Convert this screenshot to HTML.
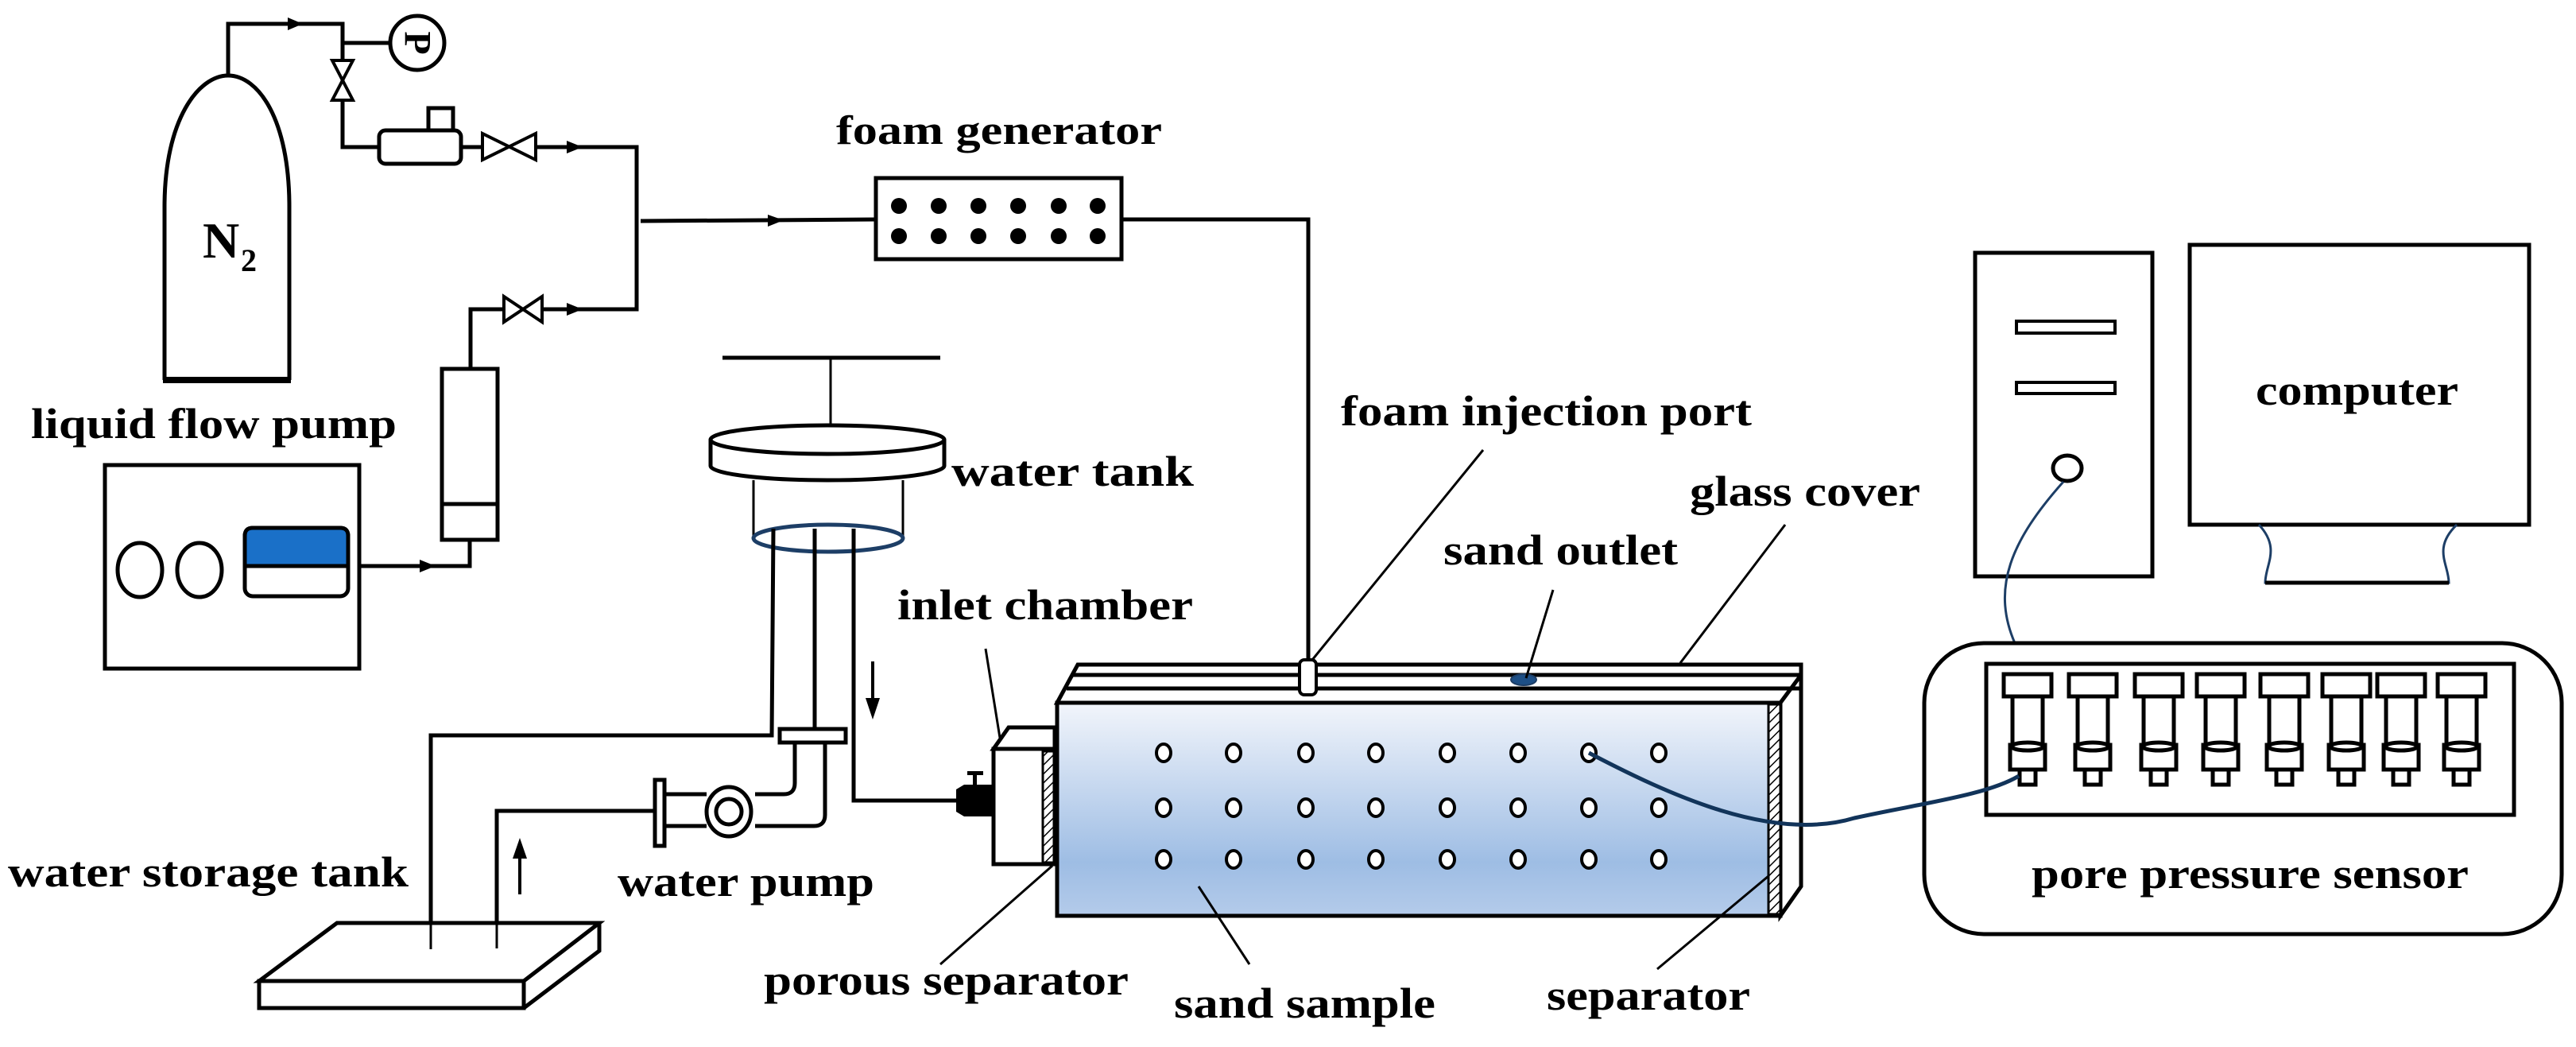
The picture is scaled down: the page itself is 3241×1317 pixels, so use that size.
<!DOCTYPE html>
<html><head><meta charset="utf-8"><style>html,body{margin:0;padding:0;background:#fff}svg{display:block}text{font-family:"Liberation Serif",serif;font-weight:bold;fill:#000}</style></head><body>
<svg width="3241" height="1317" viewBox="0 0 3241 1317" xmlns="http://www.w3.org/2000/svg">
<defs>
<linearGradient id="sand" x1="0" y1="0" x2="0" y2="1">
<stop offset="0" stop-color="#f2f5fb"/><stop offset="0.75" stop-color="#9ebde4"/><stop offset="1" stop-color="#b4cbea"/></linearGradient>
<pattern id="hatch" width="8" height="8" patternUnits="userSpaceOnUse" patternTransform="rotate(45)"><rect width="8" height="8" fill="#fff"/><line x1="0" y1="0" x2="0" y2="8" stroke="#000" stroke-width="3"/></pattern>
<g id="s"><rect x="-30" y="848" width="60" height="28"/><rect x="-19" y="876" width="38" height="61"/><rect x="-22" y="937" width="44" height="31"/><ellipse cx="0" cy="939" rx="20" ry="5"/><rect x="-10" y="968" width="20" height="19"/></g>
</defs>
<g fill="none" stroke="#000" stroke-width="5">
<path d="M207,478 L207,260 C207,150 250,95 287,95 C325,95 364,150 364,260 L364,478"/>
<line x1="205" y1="478" x2="366" y2="478" stroke-width="8"/>
<polyline points="287,95 287,30 431,30 431,185 477,185"/>
<line x1="431" y1="54" x2="490" y2="54"/>
<circle cx="525" cy="54" r="34" fill="#fff"/>
<polygon points="418,76 444,76 418,126 444,126" fill="#fff" stroke-width="4"/>
<rect x="477" y="164" width="103" height="42" rx="8" fill="#fff"/>
<rect x="539" y="136" width="31" height="28" fill="#fff"/>
<line x1="580" y1="185" x2="607" y2="185"/>
<polygon points="607,168 607,201 674,168 674,201" fill="#fff" stroke-width="4"/>
<polyline points="674,185 801,185 801,389 682,389"/>
<polygon points="634,373 634,405 682,373 682,405" fill="#fff" stroke-width="4"/>
<polyline points="634,389 592,389 592,464"/>
<line x1="806" y1="278" x2="1102" y2="276"/>
<rect x="1102" y="224" width="309" height="102"/>
<polyline points="1411,276 1646,276 1646,832"/>
<rect x="132" y="585" width="320" height="256"/>
<ellipse cx="176" cy="717" rx="28" ry="34"/>
<ellipse cx="251" cy="717" rx="28" ry="34"/>
<rect x="308" y="664" width="130" height="86" rx="10" fill="#fff"/>
<path d="M308,712 L308,674 Q308,664 318,664 L428,664 Q438,664 438,674 L438,712 Z" fill="#1a70c8"/>
<polyline points="452,712 591,712 591,681"/>
<rect x="556" y="464" width="70" height="215" fill="#fff"/>
<line x1="556" y1="634" x2="626" y2="634"/>
<line x1="909" y1="450" x2="1183" y2="450"/>
<line x1="1045" y1="450" x2="1045" y2="549" stroke-width="3"/>
<path d="M894,553 L894,586 A147,18 0 0 0 1188,586 L1188,553" fill="#fff"/>
<ellipse cx="1041" cy="553" rx="147" ry="18" fill="#fff"/>
<line x1="948" y1="604" x2="948" y2="677" stroke-width="3"/>
<line x1="1136" y1="604" x2="1136" y2="677" stroke-width="3"/>
<ellipse cx="1042" cy="677" rx="94" ry="17" stroke="#1d3e66"/>
<polyline points="973,665 971,925 542,925 542,1194"/>
<line x1="1025" y1="665" x2="1025" y2="917"/>
<polyline points="1074,665 1074,1007 1203,1007"/>
<rect x="981" y="917" width="83" height="17" fill="#fff"/>
<path d="M1000,934 L1000,985 Q1000,999 986,999 L950,999 M1038,934 L1038,1025 Q1038,1039 1024,1039 L950,1039"/>
<ellipse cx="917" cy="1021" rx="28" ry="31" fill="#fff"/>
<circle cx="917" cy="1021" r="16"/>
<line x1="837" y1="999" x2="889" y2="999"/><line x1="837" y1="1039" x2="889" y2="1039"/>
<rect x="824" y="981" width="12" height="83" fill="#fff"/>
<polyline points="824,1020 625,1020 625,1193"/>
<line x1="654" y1="1125" x2="654" y2="1075" stroke-width="4"/>
<line x1="1098" y1="832" x2="1098" y2="885" stroke-width="4"/>
<polygon points="424,1161 754,1161 659,1234 326,1234" fill="#fff"/>
<polygon points="326,1234 659,1234 659,1268 326,1268" fill="#fff"/>
<polyline points="754,1161 754,1196 659,1268"/>
<line x1="542" y1="1150" x2="542" y2="1194" stroke-width="3"/>
<line x1="625" y1="1150" x2="625" y2="1193" stroke-width="3"/>
<polygon points="1250,942 1269,915 1327,915 1327,942" fill="#fff"/>
<rect x="1250" y="942" width="77" height="145" fill="#fff"/>
<rect x="1312" y="945" width="14" height="140" fill="url(#hatch)" stroke-width="3"/>
<rect x="1330" y="884" width="910" height="268" fill="url(#sand)"/>
<polygon points="1330,884 1356,836 2266,836 2266,1115 2240,1152 2240,884" fill="#fff"/>
<line x1="1350" y1="849" x2="2266" y2="849"/>
<line x1="1342" y1="866" x2="2266" y2="866"/>
<line x1="2240" y1="884" x2="2266" y2="849"/>
<rect x="2225" y="886" width="15" height="264" fill="url(#hatch)" stroke-width="3"/>
<rect x="1635" y="830" width="21" height="44" rx="6" fill="#fff" stroke-width="4"/>
<ellipse cx="1917" cy="855" rx="16" ry="7" fill="#1d4f86" stroke="#1d3e66" stroke-width="2"/>
<g stroke-width="3">
<line x1="1240" y1="816" x2="1258" y2="928"/>
<line x1="1866" y1="566" x2="1651" y2="830"/>
<line x1="2246" y1="660" x2="2114" y2="834"/>
<line x1="1954" y1="742" x2="1920" y2="853"/>
<line x1="1508" y1="1115" x2="1572" y2="1213"/>
<line x1="1183" y1="1213" x2="1324" y2="1089"/>
<line x1="2085" y1="1219" x2="2225" y2="1102"/>
</g>
<rect x="2485" y="318" width="223" height="407"/>
<rect x="2537" y="404" width="124" height="15" stroke-width="4"/>
<rect x="2537" y="481" width="124" height="14" stroke-width="4"/>
<ellipse cx="2601" cy="589" rx="18" ry="16"/>
<rect x="2755" y="308" width="427" height="352"/>
<path d="M2842,660 C2870,690 2850,710 2850,733 L3081,733 C3081,710 3060,690 3091,660" stroke="#1d3e66" stroke-width="3"/>
<line x1="2850" y1="733" x2="3081" y2="733"/>
<path d="M2596,606 C2530,680 2505,740 2535,809" stroke="#1d3e66" stroke-width="3"/>
<rect x="2421" y="809" width="802" height="366" rx="75"/>
<rect x="2499" y="835" width="664" height="190"/>
</g>
<g fill="#000">
<polygon points="362,22 381,30 362,38"/>
<polygon points="713,177 733,185 713,193"/>
<polygon points="713,381 733,389 713,397"/>
<polygon points="966,270 986,277 966,285"/>
<polygon points="528,704 548,712 528,720"/>
<polygon points="645,1080 654,1054 663,1080"/>
<polygon points="1089,878 1098,905 1107,878"/>
<path d="M1203,993 L1213,987 L1248,987 L1248,1027 L1213,1027 L1203,1021 Z"/>
<rect x="1224" y="975" width="5" height="13"/><rect x="1217" y="970" width="20" height="5"/>
</g>
<g fill="#000">
<circle cx="1131" cy="259" r="10"/><circle cx="1181" cy="259" r="10"/><circle cx="1231" cy="259" r="10"/><circle cx="1281" cy="259" r="10"/><circle cx="1332" cy="259" r="10"/><circle cx="1381" cy="259" r="10"/>
<circle cx="1131" cy="297" r="10"/><circle cx="1181" cy="297" r="10"/><circle cx="1231" cy="297" r="10"/><circle cx="1281" cy="297" r="10"/><circle cx="1332" cy="297" r="10"/><circle cx="1381" cy="297" r="10"/>
</g>
<g fill="#fff" stroke="#000" stroke-width="4">
<ellipse cx="1464" cy="947" rx="9" ry="11"/><ellipse cx="1552" cy="947" rx="9" ry="11"/><ellipse cx="1643" cy="947" rx="9" ry="11"/><ellipse cx="1731" cy="947" rx="9" ry="11"/><ellipse cx="1821" cy="947" rx="9" ry="11"/><ellipse cx="1910" cy="947" rx="9" ry="11"/><ellipse cx="1999" cy="947" rx="9" ry="11"/><ellipse cx="2087" cy="947" rx="9" ry="11"/>
<ellipse cx="1464" cy="1016" rx="9" ry="11"/><ellipse cx="1552" cy="1016" rx="9" ry="11"/><ellipse cx="1643" cy="1016" rx="9" ry="11"/><ellipse cx="1731" cy="1016" rx="9" ry="11"/><ellipse cx="1821" cy="1016" rx="9" ry="11"/><ellipse cx="1910" cy="1016" rx="9" ry="11"/><ellipse cx="1999" cy="1016" rx="9" ry="11"/><ellipse cx="2087" cy="1016" rx="9" ry="11"/>
<ellipse cx="1464" cy="1081" rx="9" ry="11"/><ellipse cx="1552" cy="1081" rx="9" ry="11"/><ellipse cx="1643" cy="1081" rx="9" ry="11"/><ellipse cx="1731" cy="1081" rx="9" ry="11"/><ellipse cx="1821" cy="1081" rx="9" ry="11"/><ellipse cx="1910" cy="1081" rx="9" ry="11"/><ellipse cx="1999" cy="1081" rx="9" ry="11"/><ellipse cx="2087" cy="1081" rx="9" ry="11"/>
</g>
<g fill="#fff" stroke="#000" stroke-width="5">
<use href="#s" x="2551"/><use href="#s" x="2633"/><use href="#s" x="2716"/><use href="#s" x="2794"/><use href="#s" x="2874"/><use href="#s" x="2952"/><use href="#s" x="3021"/><use href="#s" x="3097"/>
</g>
<path d="M1999,947 C2100,1000 2230,1060 2333,1029 C2420,1010 2500,1000 2540,976" fill="none" stroke="#12345a" stroke-width="5"/>
<text x="525" y="54" font-size="48" text-anchor="middle" dominant-baseline="central" transform="rotate(90 525 54)">P</text>
<text x="255" y="324" font-size="64">N</text>
<text x="303" y="341" font-size="40">2</text>
<text x="1052" y="181" font-size="52" textLength="410" lengthAdjust="spacingAndGlyphs">foam generator</text>
<text x="39" y="551" font-size="54" textLength="460" lengthAdjust="spacingAndGlyphs">liquid flow pump</text>
<text x="1197" y="611" font-size="54" textLength="305" lengthAdjust="spacingAndGlyphs">water tank</text>
<text x="1129" y="779" font-size="54" textLength="372" lengthAdjust="spacingAndGlyphs">inlet chamber</text>
<text x="10" y="1115" font-size="54" textLength="504" lengthAdjust="spacingAndGlyphs">water storage tank</text>
<text x="777" y="1127" font-size="54" textLength="323" lengthAdjust="spacingAndGlyphs">water pump</text>
<text x="961" y="1251" font-size="54" textLength="459" lengthAdjust="spacingAndGlyphs">porous separator</text>
<text x="1477" y="1280" font-size="54" textLength="329" lengthAdjust="spacingAndGlyphs">sand sample</text>
<text x="1946" y="1270" font-size="54" textLength="256" lengthAdjust="spacingAndGlyphs">separator</text>
<text x="1687" y="535" font-size="54" textLength="517" lengthAdjust="spacingAndGlyphs">foam injection port</text>
<text x="2126" y="636" font-size="54" textLength="290" lengthAdjust="spacingAndGlyphs">glass cover</text>
<text x="1816" y="710" font-size="54" textLength="295" lengthAdjust="spacingAndGlyphs">sand outlet</text>
<text x="2838" y="509" font-size="54" textLength="255" lengthAdjust="spacingAndGlyphs">computer</text>
<text x="2556" y="1117" font-size="54" textLength="550" lengthAdjust="spacingAndGlyphs">pore pressure sensor</text>
</svg>
</body></html>
